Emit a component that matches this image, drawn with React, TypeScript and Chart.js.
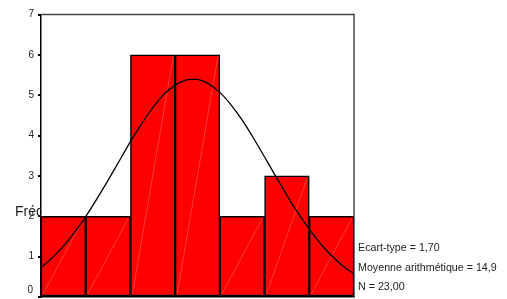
import React, { useEffect, useRef } from "react";
import { Chart, registerables } from "chart.js";

Chart.register(...registerables);

// Histogram bins (class centres) and frequencies
const binCenters = [12, 13, 14, 15, 16, 17, 18];
const frequencies = [2, 2, 6, 6, 2, 3, 2];

// Normal curve
const curveX = [
  11.5, 11.75, 12, 12.25, 12.5, 12.75, 13, 13.25, 13.5, 13.75, 14, 14.25, 14.5, 14.75,
  15, 15.25, 15.5, 15.75, 16, 16.25, 16.5, 16.75, 17, 17.25, 17.5, 17.75, 18, 18.25, 18.5,
];
const curveY = [
  0.73, 0.97, 1.26, 1.6, 1.99, 2.43, 2.89, 3.37, 3.85, 4.29, 4.69, 5.02, 5.25, 5.38,
  5.39, 5.28, 5.07, 4.76, 4.38, 3.94, 3.47, 2.99, 2.52, 2.08, 1.68, 1.32, 1.02, 0.77, 0.57,
];

const yTicks = [0, 1, 2, 3, 4, 5, 6, 7];
const yTitle = "Fréquence";
const statsLabels = ["Ecart-type = 1,70", "Moyenne arithmétique = 14,9", "N = 23,00"];

const FONT = "Arial, 'Liberation Sans', sans-serif";

const decorPlugin = {
  id: "decor",
  beforeDatasetsDraw(chart: any) {
    const { ctx, chartArea } = chart;
    ctx.save();
    // y title, clipped at the axis
    ctx.beginPath();
    ctx.rect(0, 0, chartArea.left, chart.height);
    ctx.clip();
    ctx.fillStyle = "#222";
    ctx.font = `14px ${FONT}`;
    ctx.textBaseline = "middle";
    ctx.textAlign = "left";
    ctx.fillText(yTitle, 15, 212);
    ctx.restore();

    // top and right frame
    ctx.save();
    ctx.strokeStyle = "#444";
    ctx.lineWidth = 1.5;
    ctx.beginPath();
    ctx.moveTo(chartArea.left, chartArea.top);
    ctx.lineTo(chartArea.right, chartArea.top);
    ctx.lineTo(chartArea.right, chartArea.bottom);
    ctx.stroke();
    ctx.restore();
  },
  afterDatasetDraw(chart: any, args: any) {
    if (args.index !== 0) return;
    const { ctx } = chart;
    const meta = chart.getDatasetMeta(0);
    ctx.save();
    ctx.strokeStyle = "rgba(255,140,140,0.7)";
    ctx.lineWidth = 0.6;
    meta.data.forEach((bar: any) => {
      const p = bar.getProps(["x", "y", "base", "width"], true);
      const l = p.x - p.width / 2 + 2;
      const r = p.x + p.width / 2 - 2;
      ctx.beginPath();
      ctx.moveTo(l, p.base - 2);
      ctx.lineTo(r, p.y + 2);
      ctx.stroke();
    });
    ctx.restore();
  },
  afterDraw(chart: any) {
    const { ctx, chartArea, scales } = chart;
    ctx.save();
    ctx.fillStyle = "#222";
    ctx.font = `10px ${FONT}`;
    ctx.textBaseline = "middle";
    ctx.textAlign = "right";
    // zero label is lifted to stay inside the picture
    ctx.fillText(String(yTicks[0]), chartArea.left - 8, scales.y.getPixelForValue(0) - 7);
    ctx.textAlign = "left";
    ctx.font = `10.7px ${FONT}`;
    const ys = [248, 268, 287];
    statsLabels.forEach((t, i) => ctx.fillText(t, chartArea.right + 4, ys[i]));
    ctx.restore();
  },
};

export default function App() {
  const ref = useRef<HTMLCanvasElement>(null);
  useEffect(() => {
    if (!ref.current) return;
    const chart = new Chart(ref.current, {
      type: "bar",
      data: {
        datasets: [
          {
            type: "bar",
            data: binCenters.map((x, i) => ({ x, y: frequencies[i] })),
            backgroundColor: "#ff0000",
            borderColor: "#000",
            borderWidth: 1.5,
            borderSkipped: false,
            barPercentage: 1,
            categoryPercentage: 1,
            order: 2,
          } as any,
          {
            type: "line",
            data: curveX.map((x, i) => ({ x, y: curveY[i] })),
            borderColor: "#000",
            borderWidth: 1.3,
            pointRadius: 0,
            tension: 0.2,
            fill: false,
            order: 1,
          } as any,
        ],
      },
      options: {
        responsive: false,
        animation: false,
        events: [],
        layout: { padding: { left: 0, right: 153, top: 14.5, bottom: 2 } },
        plugins: { legend: { display: false }, tooltip: { enabled: false } },
        scales: {
          x: {
            type: "linear",
            min: 11.5,
            max: 18.5,
            offset: false,
            ticks: { display: false },
            grid: { display: false },
            border: { display: true, color: "#000", width: 1.5 },
            afterFit: (s: any) => {
              s.height = 0;
              s.paddingLeft = 0;
              s.paddingRight = 0;
            },
          },
          y: {
            min: 0,
            max: 7,
            ticks: {
              stepSize: 1,
              padding: 4,
              color: "#222",
              font: { family: FONT, size: 10 },
              callback: (v: any) => (v === yTicks[0] ? "" : String(v)),
            },
            grid: {
              drawOnChartArea: false,
              drawTicks: true,
              tickLength: 3,
              color: "#000",
              lineWidth: 2,
            },
            border: { display: true, color: "#000", width: 1.5 },
            afterFit: (s: any) => {
              s.width = 41;
              s.paddingTop = 0;
              s.paddingBottom = 0;
            },
          },
        },
      },
      plugins: [decorPlugin],
    });
    return () => chart.destroy();
  }, []);
  return (
    <div style={{ position: "fixed", left: 0, top: 0, width: 507, height: 299, background: "#fff" }}>
      <canvas ref={ref} width={507} height={299} style={{ display: "block" }} />
    </div>
  );
}
